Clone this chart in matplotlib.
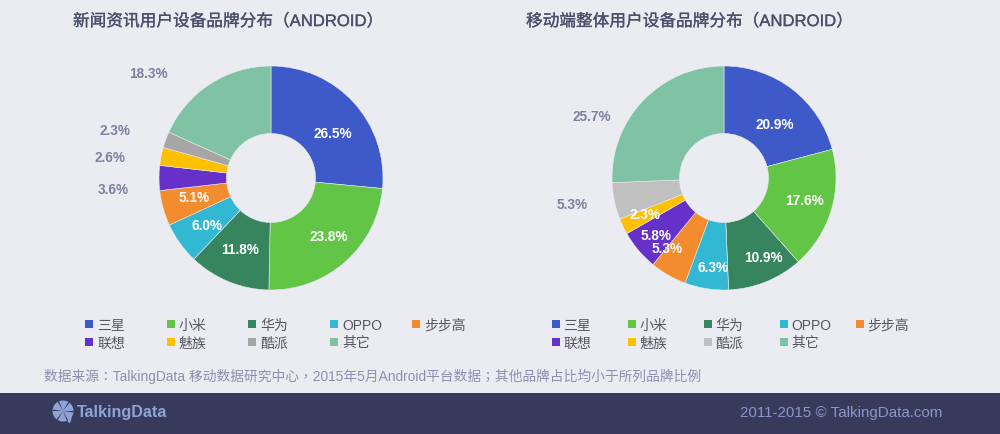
import matplotlib
matplotlib.use("Agg")
import matplotlib.pyplot as plt
import matplotlib.patheffects as pe
from matplotlib.patches import Circle, Polygon, Rectangle, Wedge

plt.rcParams["font.family"] = ["Liberation Sans", "Noto Sans CJK SC", "DejaVu Sans"]

W, H = 1000, 434

brands = ["三星", "小米", "华为", "OPPO", "步步高", "联想", "魅族", "酷派", "其它"]
news_values = [26.5, 23.8, 11.8, 6.0, 5.1, 3.6, 2.6, 2.3, 18.3]
mobile_values = [20.9, 17.6, 10.9, 6.3, 5.3, 5.8, 2.3, 5.3, 25.7]
news_title = "新闻资讯用户设备品牌分布（ANDROID）"
mobile_title = "移动端整体用户设备品牌分布（ANDROID）"
source_text = "数据来源：TalkingData 移动数据研究中心，2015年5月Android平台数据；其他品牌占比均小于所列品牌比例"

news_colors = ["#3d5ac8", "#62c545", "#36855f", "#33b8d3", "#f38c2e",
               "#6531c9", "#ffc000", "#a6a6a6", "#80c2a4"]
mobile_colors = news_colors[:7] + ["#c0c0c0", news_colors[8]]

BG = "#ebecf2"
FOOTER = "#383a5c"
LABEL_GREY = "#7d809f"
LOGO = "#8fa3d6"


def draw_donut(fig, cx, cy, values, colors, r=112):
    ax = fig.add_axes([(cx - r) / W, 1 - (cy + r) / H, 2 * r / W, 2 * r / H])
    ax.pie(values, colors=colors, startangle=90, counterclock=False, radius=1,
           wedgeprops=dict(width=1 - 44.5 / r, edgecolor=BG, linewidth=0.4))
    ax.set_xlim(-1, 1)
    ax.set_ylim(-1, 1)
    ax.axis("off")


def draw_legend(ov, x0, dx, labels, colors):
    for i, (name, c) in enumerate(zip(labels, colors)):
        row, col = divmod(i, 5)
        x = x0 + col * dx
        y = 324 + row * 17.5
        ov.add_patch(Rectangle((x, y - 4), 8, 8, color=c, lw=0))
        ov.text(x + 12, y + 6, name, fontsize=10, color="#55575f", va="baseline", ha="left")


fig = plt.figure(figsize=(W / 100, H / 100), dpi=100, facecolor=BG)

draw_donut(fig, 271, 178, news_values, news_colors)
draw_donut(fig, 724, 178, mobile_values, mobile_colors)

ov = fig.add_axes([0, 0, 1, 1], facecolor="none")
ov.set_xlim(0, W)
ov.set_ylim(H, 0)
ov.axis("off")

# the original title is a bit heavier than regular, a thin stroke gets close
heavy = [pe.withStroke(linewidth=0.2, foreground="#4a4f6a")]
for x, title in [(73, news_title), (526, mobile_title)]:
    ov.text(x, 21, title, fontsize=12, color="#4a4f6a", va="center", path_effects=heavy)

# label spots, white ones sit on the ring
news_spots = [(333, 134, "w"), (329, 237, "w"), (240, 250, "w"), (207, 226, "w"), (194, 198, "w"),
              (113, 190, "g"), (110, 158, "g"), (115, 131, "g"), (148, 74, "g")]
mobile_spots = [(775, 125, "w"), (804, 201, "w"), (763, 258, "w"), (713, 268, "w"), (667, 249, "w"),
                (656, 236, "w"), (645, 215, "w"), (572, 205, "g"), (592, 117, "g")]
for values, spots in [(news_values, news_spots), (mobile_values, mobile_spots)]:
    for v, (x, y, kind) in zip(values, spots):
        ov.text(x, y, f"{v:.1f}%", fontsize=9.8, weight="bold", ha="center", va="center",
                color="white" if kind == "w" else LABEL_GREY)

draw_legend(ov, 85, 81.7, brands, news_colors)
draw_legend(ov, 551.5, 76, brands, mobile_colors)

ov.text(44, 376, source_text, fontsize=9.9, color="#8c90ae", va="center",
        family=["Liberation Sans", "Noto Sans CJK TC"])

# footer band
ov.add_patch(Rectangle((0, 393), W, H - 393, color=FOOTER, lw=0))
ov.add_patch(Circle((63, 411), 10.5, color=LOGO, lw=0))
ov.add_patch(Polygon([(65, 419), (72, 417), (70, 423.5)], color=LOGO, lw=0))
for a in range(0, 360, 60):
    ov.add_patch(Wedge((63, 411), 10.5, a, a + 8, color=FOOTER, lw=0))
ov.text(77, 412, "TalkingData", fontsize=11.6, weight="bold", color=LOGO, va="center")
ov.text(942, 412.5, "2011-2015 © TalkingData.com", fontsize=10.9, color="#8b95c9", va="center", ha="right")

fig.savefig("out.png", dpi=100, facecolor=BG)
